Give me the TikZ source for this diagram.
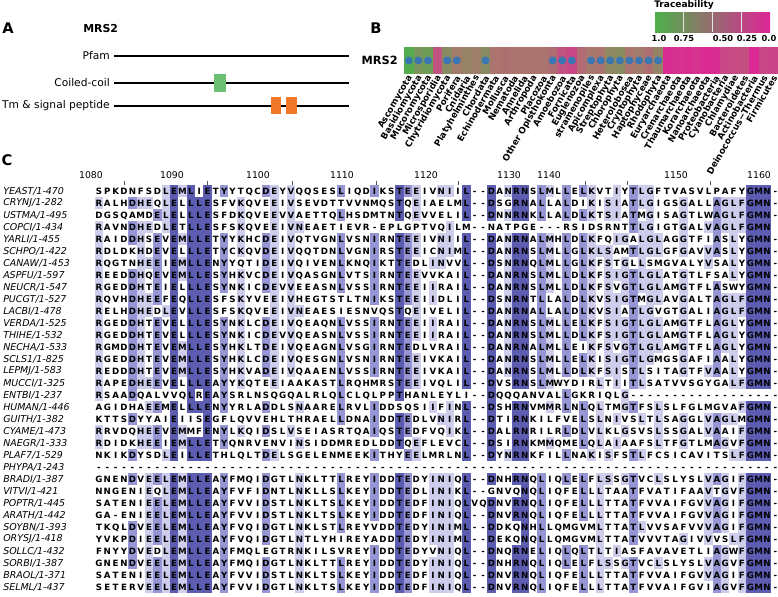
\documentclass[tikz,border=0pt]{standalone}
\usepackage{fontspec}
\setmainfont{DejaVu Sans}
\usepackage{xcolor}

\definecolor{pidhi}{RGB}{92,92,176}
\definecolor{pidmid}{RGB}{150,150,212}
\definecolor{pidlo}{RGB}{206,206,236}
\definecolor{tgreen}{RGB}{78,176,74}
\definecolor{tbrown}{RGB}{168,120,108}
\definecolor{tmag}{RGB}{222,38,150}
\definecolor{dotblue}{RGB}{58,118,178}
\definecolor{ccgreen}{RGB}{108,192,116}
\definecolor{tmorange}{RGB}{240,118,40}

\def\nseqs{34}
\makeatletter
\newcount\aln@col
\def\alntally#1{\global\aln@col=0 \aln@tally#1\relax}
\def\aln@tally#1{%
  \ifx#1\relax\else
    \global\advance\aln@col by 1
    \if#1-\else\aln@count{#1}\fi
    \expandafter\aln@tally
  \fi}
\def\aln@count#1{%
  \expandafter\ifx\csname cnt@\the\aln@col @#1\endcsname\relax
    \expandafter\xdef\csname cnt@\the\aln@col @#1\endcsname{0}%
  \fi
  \expandafter\xdef\csname cnt@\the\aln@col @#1\endcsname{\the\numexpr\csname cnt@\the\aln@col @#1\endcsname+1\relax}%
  \ifnum\csname cnt@\the\aln@col @#1\endcsname>\csname mx@\the\aln@col\endcsname\relax
    \expandafter\xdef\csname mx@\the\aln@col\endcsname{\csname cnt@\the\aln@col @#1\endcsname}%
  \fi}
\def\alndraw#1#2#3{\def\aln@r{#1}\def\aln@y{#2}\global\aln@col=0 \aln@draw#3\relax}
\def\aln@draw#1{%
  \ifx#1\relax\else
    \aln@res{#1}%
    \expandafter\aln@draw
  \fi}
\def\aln@res#1{%
  \global\advance\aln@col by 1
  \pgfmathsetmacro\aln@x{99+8.35*(\the\aln@col-1)}%
  \if#1-\else\aln@cell{#1}\fi
  \node[res] (r\aln@r c\the\aln@col) at (\aln@x,\aln@y+3.5) {#1};}
\def\aln@cell#1{%
  \edef\aln@n{\csname cnt@\the\aln@col @#1\endcsname}%
  \edef\aln@m{\csname mx@\the\aln@col\endcsname}%
  \let\aln@c\relax
  \ifnum\aln@n=\aln@m\relax
    \ifnum\numexpr100*\aln@n\relax>\numexpr80*\nseqs\relax \def\aln@c{pidhi}%
    \else\ifnum\numexpr100*\aln@n\relax>\numexpr60*\nseqs\relax \def\aln@c{pidmid}%
    \else\ifnum\numexpr100*\aln@n\relax>\numexpr40*\nseqs\relax \def\aln@c{pidlo}%
    \fi\fi\fi
  \fi
  \ifx\aln@c\relax\else
    \fill[\aln@c] (\aln@x-4.2,\aln@y-6.05) rectangle (\aln@x+4.2,\aln@y+6.05);
  \fi}
\makeatother

\def\seqlist{%
YEAST/1-470/SPKDNFSDLEMLIETYYTQCDEYVQQSESLIQDIKSTEEIVNIIL--DANRNSLMLLELKVTIYTLGFTVASVLPAFYGMN-,%
CRYNJ/1-282/RALHDHEQLELLLESFVKQVEEIVSEVDTTVVNMQSTQEIAELML--DSGRNALLALDIKISIATLGIGSGALLAGLFGMN-,%
USTMA/1-495/DGSQAMDELELLLESFDKQVEEVVAETTQLHSDMTNTQEVVELIL--DNNRNKLLALDLKTSIATMGISAGTLWAGLFGMN-,%
COPCI/1-434/RAVNDHEDLETLLESFSKQVEEIVNEAETIEVR-EPLGPTVQILM--NATPGE---RSIDSRNTTLGIGTGALVAGLFGMN,%
YARLI/1-455/RAIDDHSEVEMLLETYYKHCDEIVQTVGNLVSNIRNTEEIVNIIL--DANRNALMHLDLKFQIGALGLAGGTFIASLYGMN-,%
SCHPO/1-422/RDLDKHDEVELLLETYCKQVDEIVQQTDNLVGNIRSTEEICNIML--DANRNSLMLLGLKLSAMTLGLGFGAVVASLYGMN-,%
CANAW/1-453/RQGTNHEEIEMLLENYYQTIDEIVQIVENLKNQIKTTEDLINVVL--DSNRNQLMLLGLKFSTGLLSMGVALYVSALYGMN-,%
ASPFU/1-597/REEDDHQEVEMLLESYHKVCDEIVQASGNLVTSIRNTEEVVKAIL--DANRNSLMLLDLKFSIGTLGLATGTLFSALYGMN-,%
NEUCR/1-547/RGEDDHTEIELLLESYNKICDEVVEEASNLVSSIRNTEEIIRAIL--DANRNSLMLLDLKFSVGTLGLAMGTFLASWYGMN-,%
PUCGT/1-527/RQVHDHEEFEQLLESFSKYVEEIVHEGTSTLTNIKSTEEIIDLIL--DSNRNTLLALDLKVSIGTMGLAVGALTAGLFGMN-,%
LACBI/1-478/RELHDHEDLEVLLESFSKQVEEIVNEAESIESNVQSTQEIVELIL--DANRNALLALDLKVSIATLGVGTGALIAGLFGMN-,%
VERDA/1-525/RGEDDHTEVELLLESYNKLCDEIVQEAQNLVSSIRNTEEIIRAIL--DANRNSLMLLELKFSIGTLGLAMGTFLAGLYGMN-,%
THIHE/1-532/RGEDDHTEVELLLESYNKICDEVVQEASNLVSSIRNTEEIIRAIL--DANRNSLMLLDLKFSIGTLGLAMGTFLAGLYGMN-,%
NECHA/1-533/RGMDDHTEVEMLLESYHKLTDEIVQEAGNLVSGIRNTEDLVRAIL--DANRNALMLLEIKFSVGTLGLAMGTFLAGLYGMN-,%
SCLS1/1-825/RGEDDHTEVEMLLESYHKLCDEIVQESGNLVSNIRNTEEIVKAIL--DANRNSLMLLELKISIGTLGMGSGAFIAALYGMN-,%
LEPMJ/1-583/REDDDHTEVEMLLESYHKVADEIVQAAENLVSSIRNTEEIVKAIL--DANRNSLMLLDLKFSISTLSITAGTFVAALYGMN-,%
MUCCI/1-325/RAPEDHEEVELLLEAYYKQTEEIAAKASTLRQHMRSTEEIVQLIL--DVSRNSLMWYDIRLTIITLSATVVSGYGALFGMN-,%
ENTBI/1-237/RSAADQALVVQLREAYSRLNSQGQALRLQLCLQLPPTHANLEYLI--DQQQANVALLGKRIQLG------------------,%
HUMAN/1-446/AGIDHAEEMELLLENYYRLADDLSNAARELRVLIDDSQSIIFINL--DSHRNVMMRLNLQLTMGTFSLSLFGLMGVAFGMN-,%
GUITH/1-382/KTTSDYYAIEIISEGFLQVVEHLTHRAELLDNAIDDTEDLVNIRL--DTIRNKILFVELSLNIVSLTLSAGGLVAGLMGMN-,%
CYAME/1-473/RRVDQHEEVEMMFENYLKQIDSLVSEIASRTQAIQSTEDFVQIKL--DALRNRILRLDLVLKLGSVSLSSGALVAAIFGMN-,%
NAEGR/1-333/RDIDKHEEIEMLLETYQNRVENVINSIDDMREDLDDTQEFLEVCL--DSIRNKMMQMELQLAIAAFSLTFGTLMAGVFGMN-,%
PLAF7/1-529/NKIKDYSDLEILLETHLQLTDELSGELENMEEKITHYEELMRLNL--DYNRNKFILLNAKISFSTLFCSICAVITSLFGMN-,%
PHYPA/1-243/----------------------------------------------------------------------------------,%
BRADI/1-387/GNENDVEELEMLLEAYFMQIDGTLNKLTTLREYIDDTEDYINIQL--DNHRNQLIQLELFLSSGTVCLSLYSLVAGIFGMN-,%
VITVI/1-421/NNGENIEQLEMLLEAYFVFIDNTLNKLLSLKEYIDDTEDLINIKL--GNVQNQLIQFELLLTAATFVATIFAAVTGVFGMN-,%
POPTR/1-445/SATENIEELEMLLEAYFVVIDSTLNKLTSLKEYIDDTEDFINIQLVQDNVRNQLIQFELLLTTATFVVAIFGVVAGIFGMN-,%
ARATH/1-442/GA-ENIEELEMLLEAYFVVIDSTLNKLTSLKEYIDDTEDFINIQL--DNVRNQLIQFELLLTTATFVVAIFGVVAGIFGMN-,%
SOYBN/1-393/TKQLDVEELEMLLEAYFVQIDGTLNKLSTLREYVDDTEDYINIML--DDKQNHLLQMGVMLTTATLVVSAFVVVAGIFGMN-,%
ORYSJ/1-418/YVKPDIEELEMLLEAYFVQIDGTLNTLYHIREYADDTEDYINIML--DEKQNQLLQMGVMLTTATVVVTAGIVVVSLFGMN-,%
SOLLC/1-432/FNYYDVEDLEMLLEAYFMQLEGTRNKILSVREYIDDTEDYVNIQL--DNQRNELIQLQLTLTIASFAVAVETLIAGWFGMN-,%
SORBI/1-387/GNENDVEELEMLLEAYFMQIDGTLNKLTTLREYIDDTEDYINIQL--DNHRNQLIQLELFLSSGTVCLSLYSLVAGVFGMN-,%
BRAOL/1-371/SATENIEELEMLLEAYFVVIDSTLNKLTSLKEYIDDTEDFINIQL--DNVRNQLIQFELLLTTATFVVAIFGVVAGIFGMN-,%
SELML/1-437/SETERVEELEMLLEAYFVVIDGTLNKLTSLKEYIDDTEDFINIQL--DNVRNQLIQFELLLTTATFVVAIFGVIAGVFGMN-}

\begin{document}
\begin{tikzpicture}[x=0.75pt,y=-0.75pt,
  panel/.style={font=\bfseries\fontsize{11}{13}\selectfont,inner sep=0},
  track/.style={line width=1pt},
  tracklab/.style={font=\fontsize{8}{10}\selectfont,anchor=east,inner sep=0},
  taxon/.style={font=\bfseries\fontsize{6.6}{8}\selectfont,rotate=60,anchor=east,inner sep=0},
  cblab/.style={font=\bfseries\fontsize{6.2}{8}\selectfont,inner sep=0},
  seqname/.style={font=\itshape\fontsize{7.1}{8}\selectfont,anchor=west,inner sep=0},
  res/.style={font=\bfseries\fontsize{6.5}{8}\selectfont,anchor=base,inner sep=0},
  rulerlab/.style={font=\fontsize{7}{8}\selectfont,inner sep=0}]
\useasboundingbox[fill=white] (0,0) rectangle (778,596);

\node[panel] (pa) at (8,28) {A};
\node[panel] (pb) at (376,28) {B};
\node[panel] (pc) at (7,160) {C};

\node[font=\bfseries\fontsize{8.2}{10}\selectfont,anchor=west,inner sep=0] (mrsa) at (83,29) {MRS2};
\node[tracklab] (pfam) at (110,56) {Pfam};
\node[tracklab] (coil) at (110,83) {Coiled-coil};
\node[tracklab] (tmsp) at (110,106) {Tm \& signal peptide};
\coordinate (pfamend) at (349,56);
\coordinate (coilend) at (349,83);
\coordinate (tmspend) at (349,106);
\draw[track] (pfam.east) ++(4,0) -- (pfamend);
\draw[track] (coil.east) ++(4,0) -- (coilend);
\draw[track] (tmsp.east) ++(4,0) -- (tmspend);
\fill[ccgreen] (214,74) rectangle (226,92);
\fill[tmorange] (271,97) rectangle (281,114);
\fill[tmorange] (286,97) rectangle (297,114);

\node[font=\bfseries\fontsize{8.5}{10}\selectfont,anchor=east,inner sep=0] (mrsb) at (398,60.5) {MRS2};
\foreach \tx/\tv/\td [count=\i] in {Ascomycota/195/1,Basidiomycota/150/1,Mucoromycota/165/1,
  Microsporidia/55/0,Chytridiomycota/135/1,Porifera/105/1,Cnidaria/120/0,Platyhelminthes/110/0,
  Chordata/135/1,Echinodermata/95/0,Mollusca/90/0,Nematoda/95/0,Annelida/95/0,Arthropoda/95/0,
  Placozoa/95/0,Other Opisthokonta/88/1,Amoebozoa/55/1,Fornicata/40/1,Euglenozoa/85/0,
  stramenopiles/100/1,Apicomplexa/95/1,Streptophyta/128/1,Chlorophyta/135/1,Heterolobosea/95/1,
  Cryptophyta/105/1,Haptophyceae/88/1,Rhodophyta/120/1,Euryarchaeota/10/0,Crenarchaeota/15/0,
  Thaumarchaeota/10/0,Korarchaeota/15/0,Nanoarchaeota/5/0,Proteobacteria/8/0,Cyanobacteria/40/0,
  Chlamydiae/45/0,Bacteroidetes/50/0,Actinobacteria/5/0,Deinococcus−Thermus/40/0,Firmicutes/35/0}{
  \pgfmathsetmacro\hx{404+9.59*(\i-1)}
  \ifnum\tv<100 \colorlet{cellc}{tbrown!\tv!tmag}\else\pgfmathtruncatemacro\tw{\tv-100}\colorlet{cellc}{tgreen!\tw!tbrown}\fi
  \fill[cellc] (\hx,47) rectangle (\hx+9.7,74);
  \ifnum\td=1 \fill[dotblue] (\hx+4.8,60.5) circle (3pt);\fi
  \node[taxon] (tax\i) at (\hx+6.5,76) {\tx};
}

\node[font=\bfseries\fontsize{6.8}{8}\selectfont,inner sep=0] (cbt) at (684,5) {Traceability};
\shade[left color=tgreen,middle color=tbrown,right color=tmag] (655,12) rectangle (770,32);
\foreach \q in {683.75,712.5,741.25}{
  \draw[white!80!gray,line width=0.4pt] (\q,12) -- (\q,32);
}
\foreach \v/\px [count=\i] in {1.0/659,0.75/684,0.50/723,0.25/747,0.0/769}{
  \node[cblab] (cb\i) at (\px,38) {\v};
}

\foreach \v/\px in {1080/91,1090/172,1100/258,1110/342,1120/426,1130/509,1140/549,1150/676,1160/759}{
  \node[rulerlab] (s\v) at (\px,175) {\v};
}
\foreach \px in {124,207,292,376,458,585,627,710}{
  \draw[gray!70!black,line width=0.5pt] (\px,181) -- (\px,185);
}

\foreach \c in {1,...,82}{\expandafter\xdef\csname mx@\c\endcsname{0}}
\foreach \nm/\rg/\sq in \seqlist {\expandafter\alntally\expandafter{\sq}}
\foreach \nm/\rg/\sq [count=\r] in \seqlist {
  \pgfmathsetmacro\ry{191+12*(\r-1)}
  \node[seqname] (name\r) at (3,\ry) {\nm/\rg};
  \edef\tmp{\noexpand\alndraw{\r}{\ry}{\sq}}\tmp
}
\end{tikzpicture}
\end{document}
